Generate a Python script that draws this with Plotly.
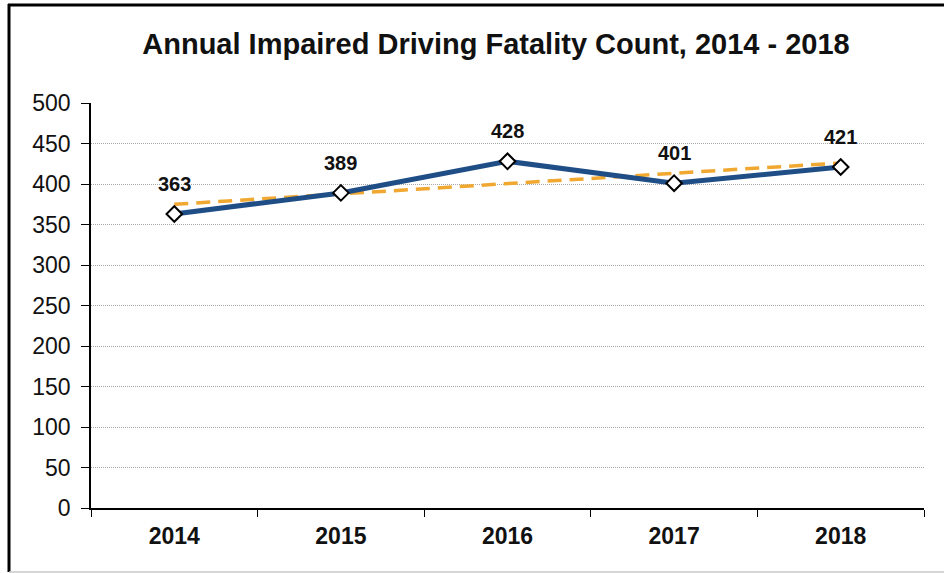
import plotly.graph_objects as go

# data
years = ['2014', '2015', '2016', '2017', '2018']
fatalities = [363, 389, 428, 401, 421]
trend = [375, 388, 400, 413, 426]

W, H = 944, 573
L, R, T, B = 91, 20, 103, 65
pw, ph = W - L - R, H - T - B

def px(x):
    return (x - L) / pw

def py(y):
    return (H - B - y) / ph

fig = go.Figure()

fig.add_trace(go.Scatter(
    x=years, y=trend, mode='lines',
    line=dict(color='#F0A830', width=3.5, dash='14px,8px'),
    hoverinfo='skip'
))

fig.add_trace(go.Scatter(
    x=years, y=fatalities, mode='lines+markers',
    line=dict(color='#1F4E87', width=5),
    marker=dict(symbol='diamond', size=12, color='white',
                line=dict(color='black', width=2))
))

# value labels above each point
for i, v in enumerate(fatalities):
    fig.add_annotation(x=i, y=v, text='<b>%d</b>' % v, showarrow=False, yshift=30,
                       font=dict(family='Liberation Sans, Arial', size=20,
                                 color='#111111'))

# outer frame like the original chart box
fig.add_shape(type='line', xref='paper', yref='paper',
              x0=px(9), x1=px(9), y0=py(4), y1=py(572),
              line=dict(color='black', width=3))
fig.add_shape(type='line', xref='paper', yref='paper',
              x0=px(8), x1=px(960), y0=py(5), y1=py(5),
              line=dict(color='black', width=3))
fig.add_shape(type='line', xref='paper', yref='paper',
              x0=px(9), x1=px(960), y0=py(572), y1=py(572),
              line=dict(color='#C8C8C8', width=1.5))

fig.update_layout(
    width=W, height=H,
    margin=dict(l=L, r=R, t=T, b=B),
    paper_bgcolor='white', plot_bgcolor='white',
    showlegend=False,
    title=dict(text='<b>Annual Impaired Driving Fatality Count, 2014 - 2018</b>',
               x=496 / W, xanchor='center', y=1 - 44 / H, yanchor='middle',
               font=dict(family='Liberation Sans, Arial', size=29, color='#111111')),
    font=dict(family='Liberation Sans, Arial', color='#111111'),
)

fig.update_xaxes(
    type='category', tickson='boundaries', ticks='outside', ticklen=7,
    tickcolor='black', showline=True, linecolor='black', linewidth=1.5,
    showgrid=False, tickfont=dict(size=23, weight='bold'),
    ticklabelstandoff=7, range=[-0.5, 4.5]
)

fig.update_yaxes(
    range=[0, 500], dtick=50, ticks='outside', ticklen=8, tickcolor='black',
    showline=True, linecolor='black', linewidth=1.5,
    showgrid=True, gridcolor='#A8A8A8', griddash='1px,1px', gridwidth=1,
    zeroline=False, tickfont=dict(size=23), ticklabelstandoff=6
)

fig.write_html('out.html', config={'displayModeBar': False},
               post_script="document.body.style.margin='0';")
